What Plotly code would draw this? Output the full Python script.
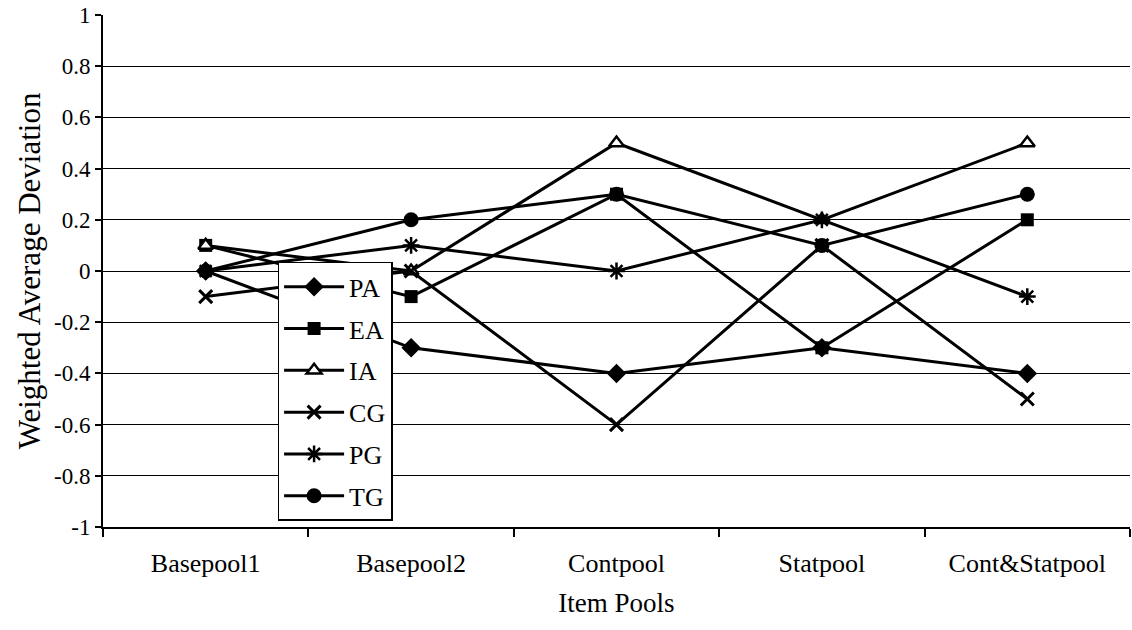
import plotly.graph_objects as go

categories = ["Basepool1", "Basepool2", "Contpool", "Statpool", "Cont&Statpool"]
PA = [0.0, -0.3, -0.4, -0.3, -0.4]
EA = [0.1, -0.1, 0.3, -0.3, 0.2]
IA = [0.1, 0.0, 0.5, 0.2, 0.5]
CG = [-0.1, 0.0, -0.6, 0.1, -0.5]
PG = [0.0, 0.1, 0.0, 0.2, -0.1]
TG = [0.0, 0.2, 0.3, 0.1, 0.3]

ytickvals = [1, 0.8, 0.6, 0.4, 0.2, 0, -0.2, -0.4, -0.6, -0.8, -1]
yticktext = ["1", "0.8", "0.6", "0.4", "0.2", "0", "-0.2", "-0.4", "-0.6", "-0.8", "-1"]

series = [
    # name, values, symbol, size, fill, line width of marker, legend rank
    ("TG", TG, "circle", 15, "black", 0, 6),
    ("PA", PA, "diamond", 15, "black", 0, 1),
    ("EA", EA, "square", 13, "black", 0, 2),
    ("IA", IA, "triangle-up", 13, "white", 2.5, 3),
    ("CG", CG, "x-thin", 13, "black", 3, 4),
    ("PG", PG, "asterisk", 14, "black", 2.5, 5),
]

fig = go.Figure()
for name, vals, sym, size, fill, mlw, rank in series:
    fig.add_trace(go.Scatter(
        x=categories, y=vals, name=name, mode="lines+markers",
        line=dict(color="black", width=3),
        marker=dict(symbol=sym, size=size, color=fill,
                    line=dict(color="black", width=mlw)),
        legendrank=rank, legendgroup=name,
    ))

fig.update_layout(
    width=1132, height=630,
    margin=dict(l=103, r=2, t=15, b=103),
    paper_bgcolor="white", plot_bgcolor="white",
    font=dict(family="Liberation Serif", color="black"),
    showlegend=True,
    legend=dict(
        x=0.170, y=0.012, xanchor="left", yanchor="bottom",
        bgcolor="white", bordercolor="black", borderwidth=1.5,
        font=dict(size=26, family="Liberation Serif"),
        tracegroupgap=5, itemwidth=60,
    ),
    xaxis=dict(
        type="category", tickson="boundaries", ticks="outside", ticklen=8,
        tickcolor="black", tickwidth=1.5,
        showline=True, linecolor="black", linewidth=2, showgrid=False,
        tickfont=dict(size=26, family="Liberation Serif"), ticklabelstandoff=12,
        title=dict(text="Item Pools", font=dict(size=27), standoff=16),
        range=[-0.5, 4.5],
    ),
    yaxis=dict(
        range=[-1, 1], tickvals=ytickvals, ticktext=yticktext,
        ticks="outside", ticklen=6, tickcolor="black", tickwidth=1.5,
        showline=True, linecolor="black", linewidth=2,
        showgrid=True, gridcolor="black", gridwidth=1.2,
        zeroline=True, zerolinecolor="black", zerolinewidth=1.2,
        tickfont=dict(size=23, family="Liberation Serif"),
        title=dict(text="Weighted Average Deviation", font=dict(size=31), standoff=4),
    ),
)

fig.write_html("out.html")
